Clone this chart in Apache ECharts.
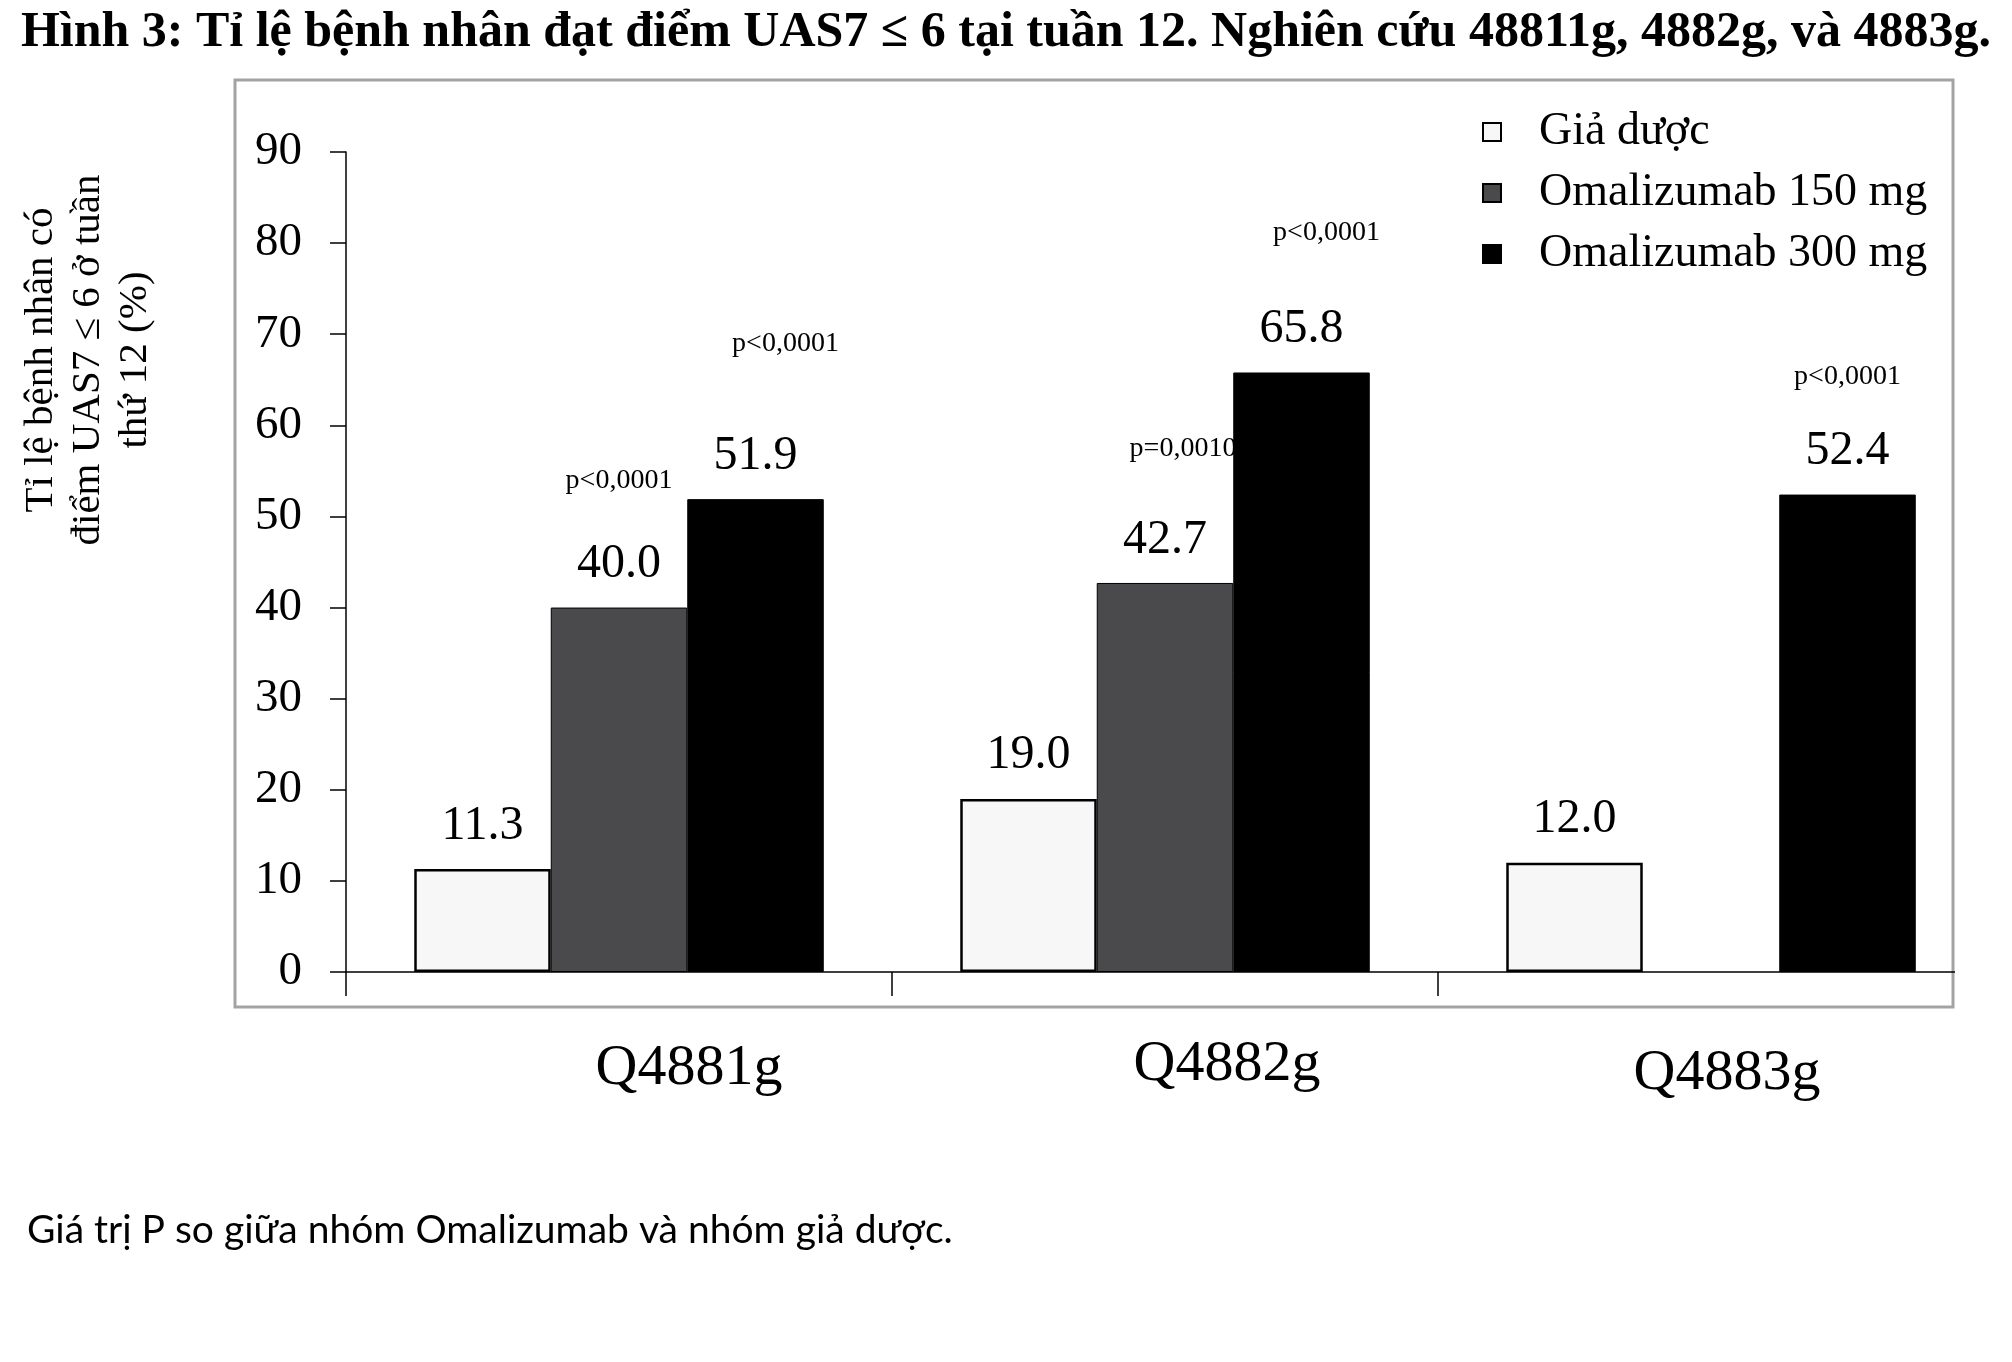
<!DOCTYPE html>
<html>
<head>
<meta charset="utf-8">
<script src="https://cdn.jsdelivr.net/npm/echarts@6/dist/echarts.min.js"></script>
<style>
html,body{margin:0;padding:0;background:#fff;}
#chart{width:2012px;height:1362px;}
</style>
</head>
<body>
<div id="chart"></div>
<script>
// ---- data ----
const categories = ['Q4881g', 'Q4882g', 'Q4883g'];
const seriesNames = ['Giả dược', 'Omalizumab 150 mg', 'Omalizumab 300 mg'];
const placebo = [11.3, 19.0, 12.0];
const oma150 = [40.0, 42.7, null];
const oma300 = [51.9, 65.8, 52.4];
const pValues150 = ['p<0,0001', 'p=0,0010', null];
const pValues300 = ['p<0,0001', 'p<0,0001', 'p<0,0001'];
const yTicks = [0, 10, 20, 30, 40, 50, 60, 70, 80, 90];

// ---- layout / style (not data) ----
const SERIF = '"Liberation Serif", "Times New Roman", serif';
const pOffsets150 = [[0, -127], [18, -134], null];
const pOffsets300 = [[30, -155], [25, -140], [0, -118]];
const catLabelShiftX = [70, 62, 16];
const catLabelShiftY = [4, 0, 9];

function pMarks(values, pvals, offsets) {
  const out = [];
  values.forEach(function (v, i) {
    if (v == null || !pvals[i]) return;
    out.push({
      coord: [i, v],
      label: { offset: offsets[i], formatter: pvals[i] }
    });
  });
  return out;
}

const valueLabel = {
  show: true,
  position: 'top',
  distance: 19,
  fontFamily: SERIF,
  fontSize: 48,
  color: '#000',
  formatter: function (p) { return Number(p.value).toFixed(1); }
};

function markPointCfg(values, pvals, offsets) {
  return {
    z: 1,
    symbol: 'rect',
    symbolSize: 1,
    itemStyle: { color: 'rgba(0,0,0,0)' },
    label: {
      show: true,
      position: 'inside',
      fontFamily: SERIF,
      fontSize: 28,
      color: '#000'
    },
    data: pMarks(values, pvals, offsets)
  };
}

const chart = echarts.init(document.getElementById('chart'), null, { renderer: 'canvas' });

const option = {
  backgroundColor: '#ffffff',
  animation: false,
  title: [
    {
      text: 'Hình 3: Tỉ lệ bệnh nhân đạt điểm UAS7 ≤ 6 tại tuần 12. Nghiên cứu 48811g, 4882g, và 4883g.',
      left: 'center',
      top: 3,
      textStyle: { fontFamily: SERIF, fontWeight: 'bold', fontSize: 50, color: '#000' }
    },
    {
      text: 'Giá trị P so giữa nhóm Omalizumab và nhóm giả dược.',
      left: 22,
      top: 1206,
      textStyle: { fontFamily: 'Lato, "Open Sans", sans-serif', fontWeight: 'normal', fontSize: 39, color: '#000' }
    }
  ],
  legend: {
    orient: 'vertical',
    left: 1477,
    top: 104,
    icon: 'rect',
    itemWidth: 18,
    itemHeight: 18,
    itemGap: 15,
    textStyle: { fontFamily: SERIF, fontSize: 46, color: '#000', padding: [0, 0, 0, 33] },
    data: seriesNames
  },
  grid: { left: 346, right: 28, top: 152, bottom: 390, containLabel: false },
  xAxis: {
    type: 'category',
    data: categories.map(function (c, i) {
      return { value: c, textStyle: { padding: [catLabelShiftY[i], 0, 0, catLabelShiftX[i] * 2] } };
    }),
    axisLine: { show: true, lineStyle: { color: '#000', width: 1.5 } },
    axisTick: { show: true, length: 24, lineStyle: { color: '#000', width: 1.5 } },
    axisLabel: { fontFamily: SERIF, fontSize: 58, color: '#000', margin: 64 },
    splitLine: { show: false }
  },
  yAxis: {
    type: 'value',
    min: yTicks[0],
    max: yTicks[yTicks.length - 1],
    interval: yTicks[1] - yTicks[0],
    name: 'Tỉ lệ bệnh nhân có\nđiểm UAS7 ≤ 6 ở tuần\nthứ 12 (%)',
    nameLocation: 'middle',
    nameGap: 187,
    nameTextStyle: { fontFamily: SERIF, fontSize: 41, lineHeight: 47, color: '#000', padding: [0, 0, 0, 404] },
    axisLine: { show: true, lineStyle: { color: '#000', width: 1.5 } },
    axisTick: { show: true, length: 16, inside: false, lineStyle: { color: '#000', width: 1.5 } },
    axisLabel: { fontFamily: SERIF, fontSize: 47, color: '#000', margin: 44 },
    splitLine: { show: false }
  },
  series: [
    {
      name: seriesNames[0],
      type: 'bar',
      barGap: '0%',
      barCategoryGap: '25%',
      data: placebo,
      itemStyle: { color: '#f6f7f6', borderColor: '#000', borderWidth: 2.5 },
      label: valueLabel
    },
    {
      name: seriesNames[1],
      type: 'bar',
      barGap: '0%',
      barCategoryGap: '25%',
      data: oma150.map(function (v) { return v == null ? '-' : v; }),
      itemStyle: { color: '#4a4a4c', borderColor: '#000', borderWidth: 1 },
      label: valueLabel,
      markPoint: markPointCfg(oma150, pValues150, pOffsets150)
    },
    {
      name: seriesNames[2],
      type: 'bar',
      barGap: '0%',
      barCategoryGap: '25%',
      data: oma300,
      itemStyle: { color: '#000', borderColor: '#000', borderWidth: 1 },
      label: valueLabel,
      markPoint: markPointCfg(oma300, pValues300, pOffsets300)
    }
  ],
  graphic: [
    {
      type: 'rect',
      z: -10,
      silent: true,
      shape: { x: 235, y: 80, width: 1718, height: 927 },
      style: { fill: 'none', stroke: '#a3a3a3', lineWidth: 3 }
    },
    {
      type: 'rect',
      z: 100,
      silent: true,
      shape: { x: 1955, y: 940, width: 57, height: 70 },
      style: { fill: '#ffffff' }
    }
  ]
};

chart.setOption(option);
</script>
</body>
</html>
